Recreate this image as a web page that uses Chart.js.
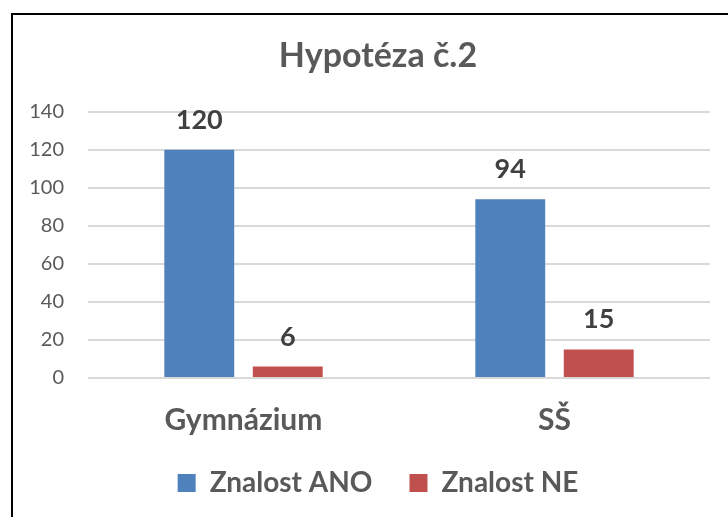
<!DOCTYPE html>
<html><head><meta charset="utf-8">
<script src="https://cdn.jsdelivr.net/npm/chart.js@4"></script>
<style>
html,body{margin:0;padding:0;background:#fff;overflow:hidden;}
#wrap{position:relative;width:728px;height:517px;}
#frame{position:absolute;left:11px;top:13px;width:800px;height:600px;border-left:2px solid #000;border-top:2px solid #000;}
canvas{position:absolute;left:0;top:0;}
</style></head>
<body><div id="wrap"><div id="frame"></div><canvas id="c" width="728" height="517"></canvas></div>
<script>
const titleText = 'Hypotéza č.2';
const categories = ['Gymnázium', 'SŠ'];
const seriesNames = ['Znalost ANO', 'Znalost NE'];
const znalostAno = [120, 94];
const znalostNe = [6, 15];
const yTicks = [0, 20, 40, 60, 80, 100, 120, 140];

const FONT = 'Lato, "Open Sans", sans-serif';
const TXT = '#595959';

const labelPlugin = {
  id: 'barLabels',
  afterLayout(chart) {
    // centre title and legend over the framed area (shifted right like the original)
    if (chart.titleBlock) chart.titleBlock.left = 46;
    if (chart.legend) chart.legend.left = 46;
  },
  afterDatasetsDraw(chart) {
    const ctx = chart.ctx;
    ctx.save();
    ctx.font = 'bold 27px ' + FONT;
    ctx.fillStyle = '#404040';
    ctx.textAlign = 'center';
    ctx.textBaseline = 'alphabetic';
    chart.data.datasets.forEach((ds, i) => {
      const meta = chart.getDatasetMeta(i);
      meta.data.forEach((bar, j) => {
        ctx.fillText(String(ds.data[j]), bar.x, bar.y - 21);
      });
    });
    ctx.restore();
  }
};

new Chart(document.getElementById('c'), {
  type: 'bar',
  data: {
    labels: categories,
    datasets: [
      { label: seriesNames[0], data: znalostAno, backgroundColor: '#4F81BD', categoryPercentage: 0.569, barPercentage: 0.79 },
      { label: seriesNames[1], data: znalostNe, backgroundColor: '#C0504D', categoryPercentage: 0.569, barPercentage: 0.79 }
    ]
  },
  options: {
    responsive: false,
    animation: false,
    devicePixelRatio: 1,
    layout: { padding: { left: 0, right: 18, top: 0, bottom: 10 } },
    plugins: {
      title: {
        display: true, text: titleText, color: TXT,
        font: { family: FONT, size: 34, weight: 'bold' },
        padding: { top: 36, bottom: 35 }
      },
      legend: {
        position: 'bottom',
        labels: {
          color: TXT, font: { family: FONT, size: 28, weight: 'bold' },
          boxWidth: 18, boxHeight: 18, padding: 37
        }
      },
      tooltip: { enabled: false }
    },
    scales: {
      x: {
        grid: { display: false },
        border: { display: false },
        ticks: { color: TXT, font: { family: FONT, size: 30, weight: 'bold' }, padding: 16 },
        afterFit(s) { s.height = 54; s._computeLabelArea = () => undefined; }
      },
      y: {
        min: 0, max: 140,
        afterBuildTicks(s) { s.ticks = yTicks.map(v => ({ value: v })); },
        grid: { color: '#D9D9D9', lineWidth: 2, drawTicks: false },
        border: { display: false },
        ticks: { color: TXT, font: { family: FONT, size: 20 }, padding: 24 },
        afterFit(s) { s.width = 88; }
      }
    }
  },
  plugins: [labelPlugin]
});
</script></body></html>
